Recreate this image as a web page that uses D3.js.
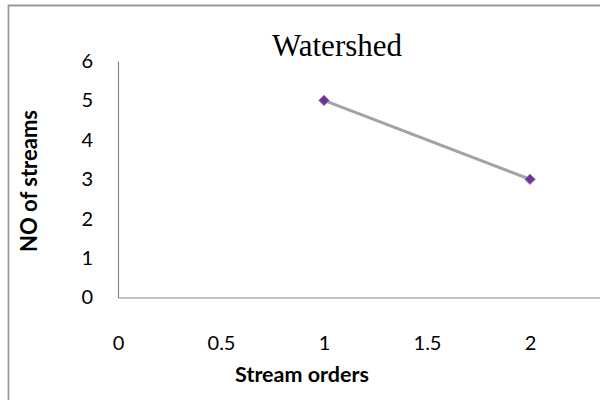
<!DOCTYPE html>
<html>
<head>
<meta charset="utf-8">
<script src="https://cdn.jsdelivr.net/npm/d3@7"></script>
<style>
  html, body { margin: 0; padding: 0; background: #fff; }
  svg { display: block; }
</style>
</head>
<body>
<svg id="chart" width="600" height="400"></svg>
<script>
// Stream counts per stream order
const streamOrders = [1, 2];
const streamCounts = [5, 3];
const xTicks = [0, 0.5, 1, 1.5, 2];
const yTicks = [0, 1, 2, 3, 4, 5, 6];

const svg = d3.select("#chart");
const W = 600, H = 400;
const tickFont = "Lato, 'Open Sans', sans-serif";

// Plot area (right side runs past the window edge)
const x = d3.scaleLinear().domain([0, 2.5]).range([118, 633]);
const y = d3.scaleLinear().domain([0, 6]).range([297.5, 61]);

// Outer chart frame (top and left edges visible)
svg.append("path")
  .attr("d", `M8.5,${H} L8.5,5.5 L${W},5.5`)
  .attr("fill", "none")
  .attr("stroke", "#9a9a9a")
  .attr("stroke-width", 1.8);

// Caption fragment running in from above
svg.append("text")
  .attr("x", 88).attr("y", -4)
  .attr("font-family", "'Liberation Serif', serif")
  .attr("font-size", 18)
  .attr("fill", "#000")
  .text("g");

// Title
svg.append("text")
  .attr("x", 337).attr("y", 56)
  .attr("text-anchor", "middle")
  .attr("font-family", "'Liberation Serif', 'Times New Roman', serif")
  .attr("font-size", 31)
  .attr("fill", "#000")
  .text("Watershed");

// Axes
const xAxis = d3.axisBottom(x).tickValues(xTicks).tickSize(0)
  .tickFormat(d3.format("~g"));
const yAxis = d3.axisLeft(y).tickValues(yTicks).tickSize(0).tickPadding(25)
  .tickFormat(d3.format("d"));

const gx = svg.append("g").attr("transform", `translate(0,${y(0)})`).call(xAxis);
const gy = svg.append("g").attr("transform", `translate(${x(0)},0)`).call(yAxis);

[gx, gy].forEach(g => {
  g.select(".domain").attr("stroke", "#888").attr("stroke-width", 1.2);
  g.selectAll("text")
    .attr("font-family", tickFont)
    .attr("font-size", 20)
    .attr("fill", "#000");
});
gx.selectAll("text").attr("y", 52).attr("dy", 0);

// Axis titles
svg.append("text")
  .attr("x", 302).attr("y", 382)
  .attr("text-anchor", "middle")
  .attr("font-family", tickFont)
  .attr("font-weight", "bold")
  .attr("font-size", 21.5)
  .attr("fill", "#000")
  .text("Stream orders");

svg.append("text")
  .attr("transform", `translate(37,181) rotate(-90)`)
  .attr("text-anchor", "middle")
  .attr("font-family", tickFont)
  .attr("font-weight", "bold")
  .attr("font-size", 22)
  .attr("fill", "#000")
  .text("NO of streams");

// Series line
const points = streamOrders.map((o, i) => ({ o, c: streamCounts[i] }));
svg.append("path")
  .datum(points)
  .attr("fill", "none")
  .attr("stroke", "#a3a3a3")
  .attr("stroke-width", 3)
  .attr("d", d3.line().x(d => x(d.o)).y(d => y(d.c)));

// Diamond markers
svg.selectAll(".marker")
  .data(points)
  .enter().append("path")
  .attr("class", "marker")
  .attr("transform", d => `translate(${x(d.o)},${y(d.c)})`)
  .attr("d", d3.symbol().type(d3.symbolDiamond2).size(72))
  .attr("fill", "#7030a0")
  .attr("stroke", "#999")
  .attr("stroke-width", 1);
</script>
</body>
</html>
